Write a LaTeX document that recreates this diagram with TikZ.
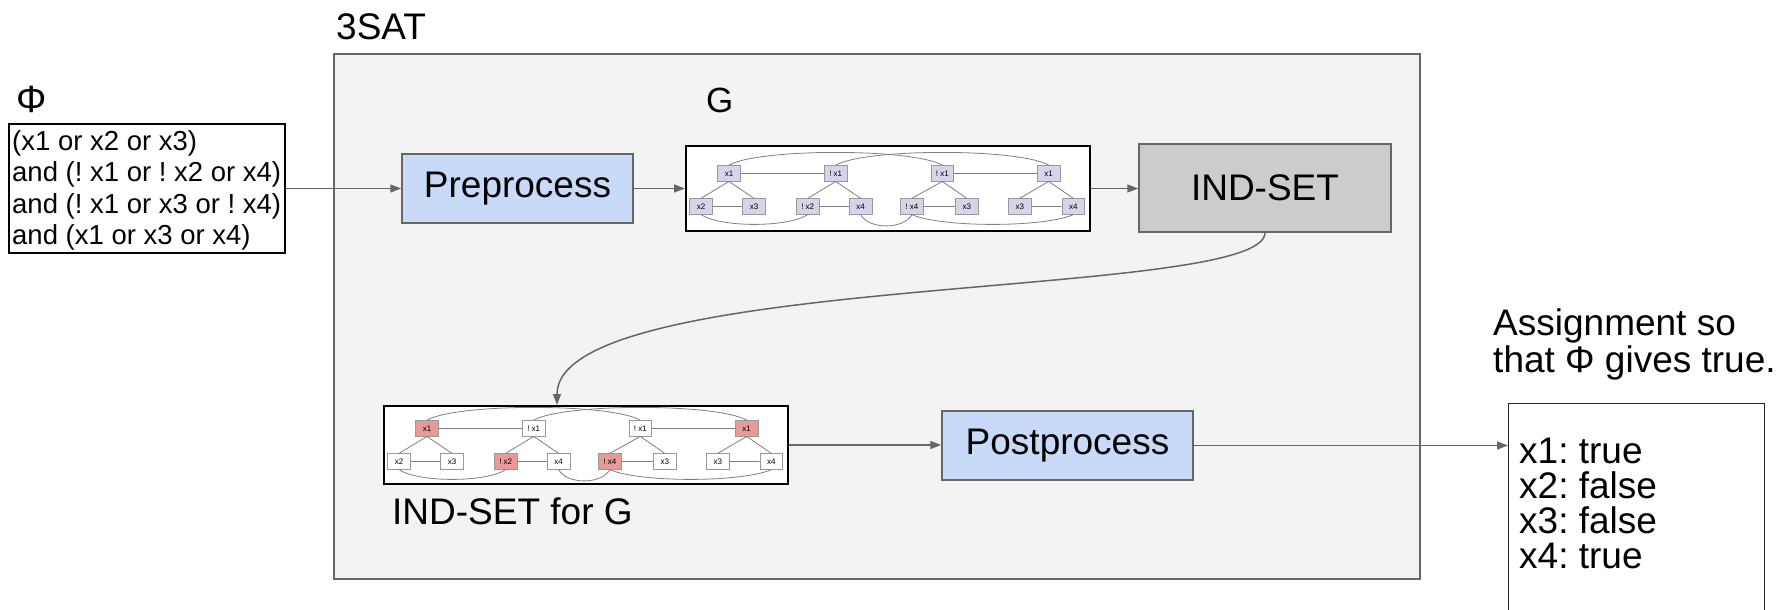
\documentclass[tikz,border=0pt]{standalone}
\usepackage{fontspec}
\setmainfont{Liberation Sans}
\usetikzlibrary{arrows.meta,calc}
\frenchspacing
\definecolor{bgbox}{HTML}{F3F3F3}
\definecolor{edgegray}{HTML}{666666}
\definecolor{procblue}{HTML}{C9DAF8}
\definecolor{solvergray}{HTML}{CCCCCC}
\definecolor{lav}{HTML}{D9D2E9}
\definecolor{hlred}{HTML}{EA9999}
\definecolor{gnborder}{HTML}{999999}
\definecolor{thinedge}{HTML}{808080}

\tikzset{
  big/.style={font=\fontsize{37}{37}\selectfont\frenchspacing},
  proc/.style={draw=edgegray, line width=1.5pt, fill=procblue, big, inner sep=0pt},
  flow/.style={draw=edgegray, line width=1.5pt, -{Triangle[length=11pt,width=8pt]}},
  gn/.style={draw=gnborder, line width=0.8pt, minimum width=22.5pt, minimum height=15.5pt, inner sep=0.5pt, font=\fontsize{8}{9}\selectfont},
  ge/.style={draw=thinedge, line width=0.8pt},
  img/.style={draw=black, line width=2pt, fill=white, inner sep=0pt},
  outline/.style={big, anchor=base west, inner sep=0pt},
}

% #1 prefix, #2 left x, #3 top-row y, #4 normal fill, #5 highlight fill
\newcommand{\satgraph}[5]{%
  \begin{scope}[shift={(#2,#3)}]
    \node[gn,fill=#5] (#1a)  at (43,0)      {x1};
    \node[gn,fill=#4] (#1b)  at (149.7,0)   {! x1};
    \node[gn,fill=#4] (#1c)  at (256.3,0)   {! x1};
    \node[gn,fill=#5] (#1d)  at (362.7,0)   {x1};
    \node[gn,fill=#4] (#1a1) at (15,33.2)   {x2};
    \node[gn,fill=#4] (#1a2) at (68,33.2)   {x3};
    \node[gn,fill=#5] (#1b1) at (121.7,33.2) {! x2};
    \node[gn,fill=#4] (#1b2) at (174.7,33.2) {x4};
    \node[gn,fill=#5] (#1c1) at (225.8,33.2) {! x4};
    \node[gn,fill=#4] (#1c2) at (280.8,33.2) {x3};
    \node[gn,fill=#4] (#1d1) at (333.8,33.2) {x3};
    \node[gn,fill=#4] (#1d2) at (387.3,33.2) {x4};
  \end{scope}
  \draw[ge] (#1a) -- (#1b) (#1c) -- (#1d);
  \foreach \p in {a,b,c,d}{
    \draw[ge] (#1\p.south) -- (#1\p1.north) (#1\p.south) -- (#1\p2.north) (#1\p1) -- (#1\p2);
  }
  \draw[ge] (#1a.north) .. controls ($(#1a.north)+(30,-17)$) and ($(#1c.north)+(-30,-17)$) .. (#1c.north);
  \draw[ge] (#1b.north) .. controls ($(#1b.north)+(30,-17)$) and ($(#1d.north)+(-30,-17)$) .. (#1d.north);
  \draw[ge] (#1a1.south) .. controls ($(#1a1.south)+(20,13)$) and ($(#1b1.south)+(-20,13)$) .. (#1b1.south);
  \draw[ge] (#1b2.south) .. controls ($(#1b2.south)+(8,15)$) and ($(#1c1.south)+(-8,15)$) .. (#1c1.south);
  \draw[ge] (#1c1.south) .. controls ($(#1c1.south)+(30,13)$) and ($(#1d2.south)+(-30,13)$) .. (#1d2.south);
}

\begin{document}
\begin{tikzpicture}[x=1pt,y=-1pt]
  \useasboundingbox (0,0) rectangle (1781,610);
  \clip (0,0) rectangle (1781,610);
  \fill[white] (0,0) rectangle (1781,610);

  % big 3SAT frame
  \node[draw=edgegray, line width=1.5pt, fill=bgbox, minimum width=1086pt, minimum height=525pt, inner sep=0pt] (frame) at (877,316.5) {};
  \node[big, anchor=base west, inner sep=0pt] (satlbl) at (336,40) {3SAT};

  % Phi input
  \node[anchor=base west, inner sep=0pt, font=\fontsize{38}{38}\selectfont] (philbl) at (16,112) {Φ};
  \node[draw=black, line width=1.2pt, fill=white, minimum width=276pt, minimum height=129pt, inner sep=0pt] (phi) at (147,188.5) {};
  \node[anchor=north west, align=left, inner sep=0pt, font=\fontsize{27.5}{31.5}\selectfont] (phitext) at (12,130) {(x1 or x2 or x3)\\and (! x1 or ! x2 or x4)\\and (! x1 or x3 or ! x4)\\and (x1 or x3 or x4)};

  % Preprocess
  \node[proc, minimum width=231pt, minimum height=69pt] (pre) at (517.5,188.5) {Preprocess};

  % Graph G
  \node[img, minimum width=404pt, minimum height=85pt] (gimg) at (888,188.5) {};
  \node[anchor=base west, inner sep=0pt, font=\fontsize{35}{35}\selectfont] (glbl) at (706,112) {G};
  \satgraph{g}{686}{173.3}{lav}{lav}

  % IND-SET solver
  \node[draw=edgegray, line width=1.5pt, fill=solvergray, big, inner sep=0pt, minimum width=252pt, minimum height=88pt] (indset) at (1265,188) {IND-SET};

  % IND-SET for G
  \node[img, minimum width=404pt, minimum height=78pt] (indimg) at (586,445) {};
  \satgraph{s}{384}{428.3}{white}{hlred}
  \node[big, anchor=base west, inner sep=0pt] (indlbl) at (392,524) {IND-SET for G};

  % Postprocess
  \node[proc, minimum width=251pt, minimum height=69pt] (post) at (1067.5,445.5) {Postprocess};

  % Output
  \node[outline] (asg1) at (1493,335) {Assignment so};
  \node[outline] (asg2) at (1493,372) {that Φ gives true.};
  \node[draw=black!85, line width=1.3pt, fill=white, anchor=north west, minimum width=256pt, minimum height=240pt, inner sep=0pt] (outbox) at (1508,403) {};
  \node[outline] (out1) at (1519,463) {x1: true};
  \node[outline] (out2) at (1519,498) {x2: false};
  \node[outline] (out3) at (1519,533) {x3: false};
  \node[outline] (out4) at (1519,568) {x4: true};

  % connectors
  \draw[flow] (phi.east) -- (pre.west);
  \draw[flow] (pre.east) -- (gimg.west);
  \draw[flow] (gimg.east) -- (gimg.east -| indset.west);
  \coordinate (indin) at ($(indimg.north)+(-29,0)$);
  \draw[flow] (indset.south) .. controls ($(indset.south)+(0,68)$) and ($(indin)+(0,-134)$) .. (indin);
  \draw[flow] (indimg.east) -- (indimg.east -| post.west);
  \draw[flow] (post.east) -- (post.east -| outbox.west);
\end{tikzpicture}
\end{document}
